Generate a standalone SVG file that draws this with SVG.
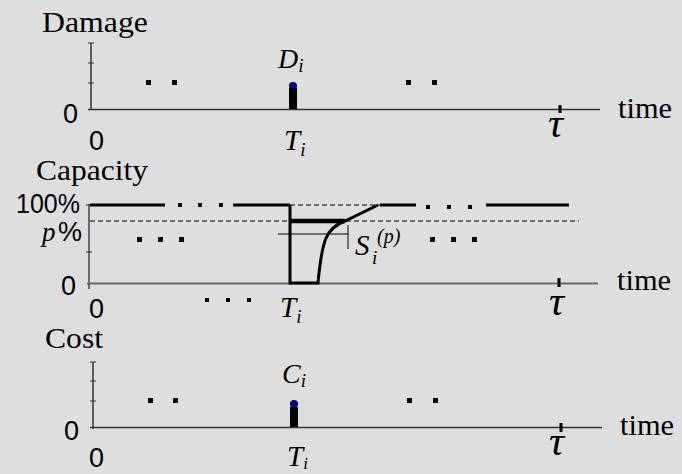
<svg xmlns="http://www.w3.org/2000/svg" width="682" height="474" viewBox="0 0 682 474">
<style>
.bg{fill:#dedede}
.lbl{font-size:29px;fill:#000}
.it{font-style:italic;fill:#000}
.num{font-size:27px;fill:#000}
.ax{stroke:#333;stroke-width:1.5;fill:none}
.axg{stroke:#6a6a6a;stroke-width:2;fill:none}
.tk{stroke:#333;stroke-width:1;fill:none}
.thick{stroke:#000;stroke-width:3;fill:none}
.dash{stroke:#000;stroke-width:1;stroke-dasharray:5,3;fill:none}
.thin{stroke:#000;stroke-width:1;fill:none}
.tau{stroke:#000;stroke-width:3}
.dot{fill:#000}
.blue{fill:#000080}
</style>
<rect class="bg" x="0" y="0" width="682" height="474"/>

<g id="damage-panel">
  <text class="lbl" font-family="Liberation Serif, Times New Roman, DejaVu Serif, serif" x="42" y="32" textLength="106" lengthAdjust="spacingAndGlyphs">Damage</text>
  <path class="ax" d="M91,43 V110 M88,109.5 H600"/>
  <path class="tk" d="M88,43 H94 M88,63 H94 M88,83 H94"/>
  <text class="num" font-family="Liberation Sans, Arial, sans-serif" x="63" y="123">0</text>
  <text class="num" font-family="Liberation Sans, Arial, sans-serif" x="89" y="150">0</text>
  <rect class="dot" x="146" y="80" width="5" height="5"/>
  <rect class="dot" x="172" y="80" width="5" height="5"/>
  <rect class="dot" x="406" y="80" width="5" height="5"/>
  <rect class="dot" x="432" y="80" width="5" height="5"/>
  <circle class="blue" cx="293" cy="86" r="4"/>
  <rect class="dot" x="289" y="88" width="8" height="21"/>
  <text class="it" font-family="Liberation Serif, Times New Roman, DejaVu Serif, serif" x="278" y="68" font-size="28">D<tspan font-size="19" dy="4">i</tspan></text>
  <text class="it" font-family="Liberation Serif, Times New Roman, DejaVu Serif, serif" x="284" y="150" font-size="29">T<tspan font-size="19" dy="6">i</tspan></text>
  <line class="tau" x1="560" y1="105" x2="560" y2="113"/>
  <text class="it" font-family="Liberation Serif, Times New Roman, DejaVu Serif, serif" x="548" y="137" font-size="42">τ</text>
  <text class="lbl" font-family="Liberation Serif, Times New Roman, DejaVu Serif, serif" x="618" y="118" textLength="54" lengthAdjust="spacingAndGlyphs">time</text>
</g>

<g id="capacity-panel">
  <text class="lbl" font-family="Liberation Serif, Times New Roman, DejaVu Serif, serif" x="36" y="180" textLength="112" lengthAdjust="spacingAndGlyphs">Capacity</text>
  <path class="axg" d="M89,204 V289 M87,283.5 H598"/>
  <path class="tk" d="M86,205 H92 M86,252 H92"/>
  <text class="num" font-family="Liberation Sans, Arial, sans-serif" x="16" y="213" font-size="24" textLength="64" lengthAdjust="spacingAndGlyphs">100%</text>
  <text class="it" font-family="Liberation Serif, Times New Roman, DejaVu Serif, serif" x="42" y="241" font-size="27">p</text>
  <text class="num" font-family="Liberation Sans, Arial, sans-serif" x="58" y="241" font-size="24">%</text>
  <text class="num" font-family="Liberation Sans, Arial, sans-serif" x="61" y="295">0</text>
  <text class="num" font-family="Liberation Sans, Arial, sans-serif" x="89" y="318">0</text>
  <path class="thick" d="M90,205 H165 M233,205 H290 M380,205 H416 M486,205 H569"/>
  <path class="dash" d="M290,205 H380"/>
  <path class="dash" d="M90,221 H579"/>
  <rect class="dot" x="178" y="203" width="4" height="4"/>
  <rect class="dot" x="198" y="203" width="4" height="4"/>
  <rect class="dot" x="219" y="203" width="4" height="4"/>
  <rect class="dot" x="426" y="205" width="4" height="4"/>
  <rect class="dot" x="447" y="205" width="4" height="4"/>
  <rect class="dot" x="468" y="205" width="4" height="4"/>
  <rect class="dot" x="137" y="237" width="5" height="5"/>
  <rect class="dot" x="158" y="237" width="5" height="5"/>
  <rect class="dot" x="179" y="237" width="5" height="5"/>
  <rect class="dot" x="430" y="237" width="5" height="5"/>
  <rect class="dot" x="451" y="237" width="5" height="5"/>
  <rect class="dot" x="472" y="237" width="5" height="5"/>
  <rect class="dot" x="205" y="298" width="4" height="4"/>
  <rect class="dot" x="226" y="298" width="4" height="4"/>
  <rect class="dot" x="247" y="298" width="4" height="4"/>
  <path class="thick" d="M290,205 V283 H318 C322,240 326,228 345,221 L378,205"/>
  <path stroke="#000" stroke-width="4.5" fill="none" d="M290,221 H345"/>
  <path class="thin" d="M278,234 H348 M348,225 V249"/>
  <text class="it" font-family="Liberation Serif, Times New Roman, DejaVu Serif, serif" x="355" y="255" font-size="29">S</text>
  <text class="it" font-family="Liberation Serif, Times New Roman, DejaVu Serif, serif" x="372" y="264" font-size="19">i</text>
  <text class="it" font-family="Liberation Serif, Times New Roman, DejaVu Serif, serif" x="377" y="243" font-size="20">(p)</text>
  <text class="it" font-family="Liberation Serif, Times New Roman, DejaVu Serif, serif" x="280" y="317" font-size="29">T<tspan font-size="19" dy="6">i</tspan></text>
  <line class="tau" x1="559" y1="278" x2="559" y2="287"/>
  <text class="it" font-family="Liberation Serif, Times New Roman, DejaVu Serif, serif" x="549" y="315" font-size="42">τ</text>
  <text class="lbl" font-family="Liberation Serif, Times New Roman, DejaVu Serif, serif" x="617" y="290" textLength="54" lengthAdjust="spacingAndGlyphs">time</text>
</g>

<g id="cost-panel">
  <text class="lbl" font-family="Liberation Serif, Times New Roman, DejaVu Serif, serif" x="45" y="348" textLength="58" lengthAdjust="spacingAndGlyphs">Cost</text>
  <path class="ax" d="M93,362 V429 M90,427.5 H602"/>
  <path class="tk" d="M90,362 H96 M90,381 H96 M90,401 H96"/>
  <text class="num" font-family="Liberation Sans, Arial, sans-serif" x="64" y="440">0</text>
  <text class="num" font-family="Liberation Sans, Arial, sans-serif" x="89" y="467">0</text>
  <rect class="dot" x="148" y="398" width="5" height="5"/>
  <rect class="dot" x="173" y="398" width="5" height="5"/>
  <rect class="dot" x="407" y="398" width="5" height="5"/>
  <rect class="dot" x="433" y="398" width="5" height="5"/>
  <circle class="blue" cx="294" cy="404" r="4"/>
  <rect class="dot" x="290" y="407" width="8" height="20"/>
  <text class="it" font-family="Liberation Serif, Times New Roman, DejaVu Serif, serif" x="282" y="383" font-size="28">C<tspan font-size="19" dy="4">i</tspan></text>
  <text class="it" font-family="Liberation Serif, Times New Roman, DejaVu Serif, serif" x="287" y="466" font-size="29">T<tspan font-size="17" dy="3">i</tspan></text>
  <line class="tau" x1="561" y1="423" x2="561" y2="432"/>
  <text class="it" font-family="Liberation Serif, Times New Roman, DejaVu Serif, serif" x="549" y="455" font-size="42">τ</text>
  <text class="lbl" font-family="Liberation Serif, Times New Roman, DejaVu Serif, serif" x="620" y="435" textLength="54" lengthAdjust="spacingAndGlyphs">time</text>
</g>
</svg>
